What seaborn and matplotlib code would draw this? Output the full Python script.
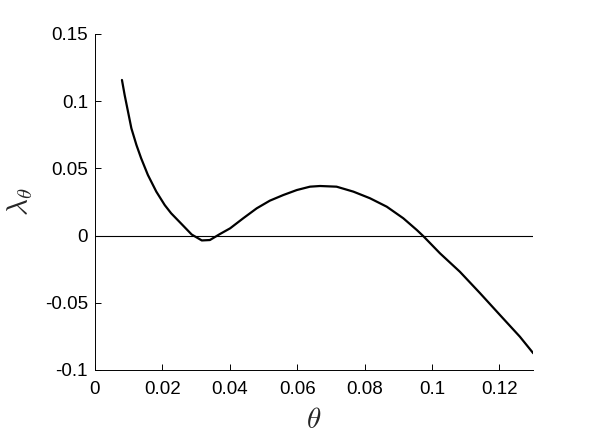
import numpy as np
import pandas as pd
import matplotlib
matplotlib.use("Agg")
import matplotlib.pyplot as plt
import seaborn as sns

# values
theta = [0.0080, 0.0088, 0.0098, 0.0108, 0.0123, 0.0137, 0.0157, 0.0182,
         0.0207, 0.0226, 0.0257, 0.0287, 0.0317, 0.0341, 0.0371, 0.0401,
         0.0440, 0.0480, 0.0519, 0.0559, 0.0599, 0.0638, 0.0668, 0.0717,
         0.0767, 0.0816, 0.0866, 0.0915, 0.0955, 0.0974, 0.1024, 0.1083,
         0.1143, 0.1202, 0.1261, 0.1301]
lam = [0.1158, 0.1046, 0.0922, 0.0798, 0.0674, 0.0575, 0.0451, 0.0327,
       0.0227, 0.0166, 0.0086, 0.0008, -0.0036, -0.0033, 0.0012, 0.0054,
       0.0129, 0.0203, 0.0260, 0.0302, 0.0339, 0.0364, 0.0369, 0.0364,
       0.0327, 0.0278, 0.0215, 0.0129, 0.0042, -0.0003, -0.0132, -0.0269,
       -0.0429, -0.0591, -0.0752, -0.0876]

xticks = [0, 0.02, 0.04, 0.06, 0.08, 0.1, 0.12]
xtick_labels = ["0", "0.02", "0.04", "0.06", "0.08", "0.1", "0.12"]
yticks = [-0.1, -0.05, 0, 0.05, 0.1, 0.15]
ytick_labels = ["-0.1", "-0.05", "0", "0.05", "0.1", "0.15"]

df = pd.DataFrame({"theta": theta, "lam": lam})

sns.set_style("ticks")
plt.rcParams["font.family"] = ["Liberation Sans", "DejaVu Sans"]
plt.rcParams["mathtext.fontset"] = "cm"

fig = plt.figure(figsize=(5.93, 4.38), dpi=100)
ax = fig.add_axes([95 / 593, 68 / 438, 438 / 593, 336 / 438])

ax.axhline(0, color="black", lw=0.8, zorder=1)
sns.lineplot(data=df, x="theta", y="lam", color="black", lw=1.6, sort=False, ax=ax)

ax.set_xlim(0, 0.13)
ax.set_ylim(-0.1, 0.15)
ax.set_xticks(xticks)
ax.set_xticklabels(xtick_labels)
ax.set_yticks(yticks)
ax.set_yticklabels(ytick_labels)
ax.tick_params(direction="in", length=4, width=0.7, labelsize=13.5, colors="black")
ax.tick_params(axis="x", pad=8)
ax.tick_params(axis="y", pad=5)

for side in ["top", "right"]:
    ax.spines[side].set_visible(False)
for side in ["left", "bottom"]:
    ax.spines[side].set_color("black")
    ax.spines[side].set_linewidth(0.7)

ax.set_xlabel(r"$\theta$", fontsize=21, labelpad=6)
ax.set_ylabel(r"$\lambda_\theta$", fontsize=21, labelpad=7)

fig.savefig("out.png", dpi=100)
